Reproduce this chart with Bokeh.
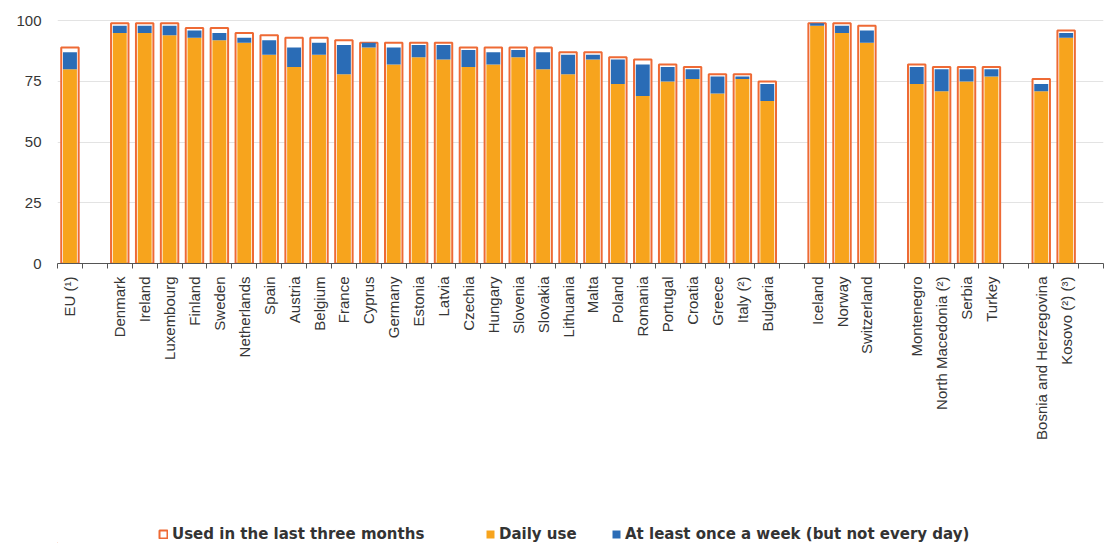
import math
from bokeh.plotting import figure
from bokeh.layouts import column
from bokeh.models import Range1d, FixedTicker, Legend, LegendItem, ColumnDataSource
from bokeh.embed import file_html
from bokeh.resources import INLINE

countries = ["EU (¹)",
             "Denmark", "Ireland", "Luxembourg", "Finland", "Sweden", "Netherlands", "Spain",
             "Austria", "Belgium", "France", "Cyprus", "Germany", "Estonia", "Latvia", "Czechia",
             "Hungary", "Slovenia", "Slovakia", "Lithuania", "Malta", "Poland", "Romania",
             "Portugal", "Croatia", "Greece", "Italy (²)", "Bulgaria",
             "Iceland", "Norway", "Switzerland",
             "Montenegro", "North Macedonia (²)", "Serbia", "Turkey",
             "Bosnia and Herzegovina", "Kosovo (²) (³)"]
used = [89,
        99, 99, 99, 97, 97, 95, 94, 93, 93, 92, 91, 91, 91, 91, 89, 89, 89, 89, 87, 87, 85, 84,
        82, 81, 78, 78, 75,
        99, 99, 98,
        82, 81, 81, 81,
        76, 96]
daily = [80,
         95, 95, 94, 93, 92, 91, 86, 81, 86, 78, 89, 82, 85, 84, 81, 82, 85, 80, 78, 84, 74, 69,
         75, 76, 70, 76, 67,
         98, 95, 91,
         74, 71, 75, 77,
         71, 93]
weekly = [7,
          3, 3, 4, 3, 3, 2, 6, 8, 5, 12, 2, 7, 5, 6, 7, 5, 3, 7, 8, 2, 10, 13,
          6, 4, 7, 1, 7,
          1, 3, 5,
          7, 9, 5, 3,
          3, 2]
group_sizes = [1, 27, 3, 4, 2]
y_ticks = [0, 25, 50, 75, 100]
legend_labels = ["Used in the last three months", "Daily use",
                 "At least once a week (but not every day)"]

xs = []
pos = 0
for g in group_sizes:
    for k in range(g):
        xs.append(pos + 0.5)
        pos += 1
    pos += 1
n_slots = pos
top = [d + w for d, w in zip(daily, weekly)]
src = ColumnDataSource(dict(x=xs, used=used, daily=daily, top=top))

FONT = "Liberation Sans"
TXT = "#363636"
C_OUT = "#EE6A35"
C_DAY = "#F7A41D"
C_WEEK = "#2A6CB6"

p = figure(width=1108, height=500, x_range=Range1d(0, n_slots), y_range=Range1d(0, 103),
           output_backend="svg", toolbar_location=None,
           min_border_left=57, min_border_right=5, min_border_top=13, min_border_bottom=237)
p.outline_line_color = None
p.xgrid.grid_line_color = None
p.ygrid.ticker = FixedTicker(ticks=y_ticks)
p.ygrid.grid_line_color = "#e3e3e3"

p.vbar(x="x", top="used", bottom=0, width=0.7, source=src,
       fill_color="white", line_color=C_OUT, line_width=2)
p.vbar(x="x", top="daily", bottom=0, width=0.56, source=src,
       fill_color=C_DAY, line_color=None)
p.vbar(x="x", bottom="daily", top="top", width=0.56, source=src,
       fill_color=C_WEEK, line_color=None)

xa = p.xaxis[0]
xa.ticker = FixedTicker(ticks=xs, minor_ticks=list(range(n_slots + 1)))
xa.major_label_overrides = {x: c for x, c in zip(xs, countries)}
xa.major_label_orientation = math.pi / 2
xa.major_tick_out = 0
xa.major_tick_in = 0
xa.minor_tick_out = 5
xa.minor_tick_in = 0
xa.minor_tick_line_color = "#555555"
xa.axis_line_color = "#555555"
xa.major_label_standoff = 8
xa.major_label_text_font = FONT
xa.major_label_text_font_size = "15px"
xa.major_label_text_color = TXT

ya = p.yaxis[0]
ya.ticker = FixedTicker(ticks=y_ticks)
ya.axis_line_color = None
ya.major_tick_line_color = None
ya.minor_tick_line_color = None
ya.major_label_standoff = 10
ya.major_label_text_font = FONT
ya.major_label_text_font_size = "15px"
ya.major_label_text_color = TXT

# legend strip (its frame is aligned with the chart frame, which starts at x=57)
lf = figure(width=1108, height=43, x_range=Range1d(0, 1), y_range=Range1d(0, 1),
            x_axis_location=None, y_axis_location=None,
            output_backend="svg", toolbar_location=None,
            min_border_left=57, min_border_right=5, min_border_top=0, min_border_bottom=0)
lf.grid.visible = False
lf.outline_line_color = None
dummy = ColumnDataSource(dict(x=[-5.0], t=[-4.0]))
d1 = lf.vbar(x="x", top="t", bottom=-5.0, width=0.1, source=dummy, fill_color="white",
             line_color=C_OUT, line_width=2)
d2 = lf.vbar(x="x", top="t", bottom=-5.0, width=0.1, source=dummy, fill_color=C_DAY,
             line_color=None)
d3 = lf.vbar(x="x", top="t", bottom=-5.0, width=0.1, source=dummy, fill_color=C_WEEK,
             line_color=None)
for label, r, lx in zip(legend_labels, [d1, d2, d3], [101, 428, 554]):
    lg = Legend(items=[LegendItem(label=label, renderers=[r])], location=(lx, 0),
                padding=0, margin=0, border_line_color=None, background_fill_alpha=0,
                glyph_width=10, glyph_height=10, label_standoff=4,
                label_text_font="DejaVu Sans", label_text_font_size="15px",
                label_text_font_style="bold", label_text_color="#333333")
    lf.add_layout(lg)

layout = column(p, lf, spacing=0)
open("out.html", "w").write(file_html(layout, INLINE))
